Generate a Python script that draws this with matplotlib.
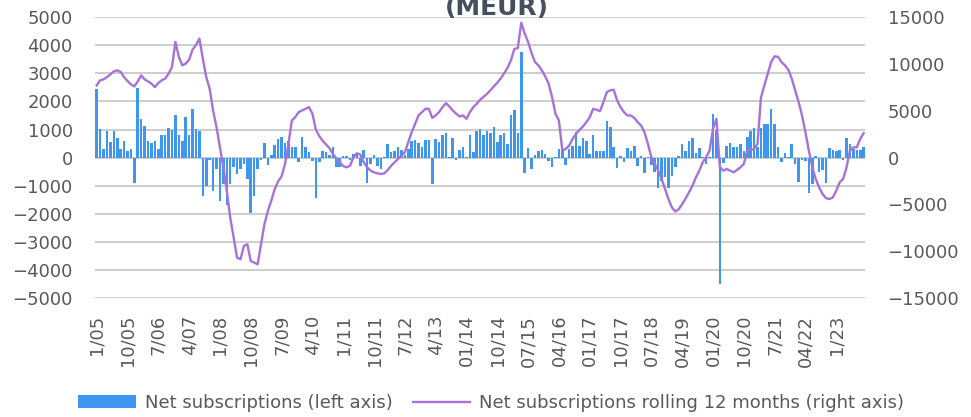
import numpy as np
import matplotlib.pyplot as plt

# x tick labels, one every 9 months starting 1/05
tick_labels = ['1/05', '10/05', '7/06', '4/07', '1/08', '10/08', '7/09', '4/10',
               '1/11', '10/11', '7/12', '4/13', '01/14', '10/14', '07/15', '04/16',
               '01/17', '10/17', '07/18', '04/19', '01/20', '10/20', '7/21', '04/22', '1/23']

# monthly net subscriptions, MEUR (left axis), 1/05 .. 9/23
net_subs = [
    2430, 1020, 310, 940, 570, 930, 690, 310, 580, 250, 310, -900,
    2480, 1360, 1120, 580, 510, 580, 310, 820, 790, 1060, 1000, 1500,
    820, 580, 1460, 790, 1740, 1020, 940,
    -1380, -1000, -100, -1200, -400, -1550, -940, -1700, -940, -350, -580, -400,
    -230, -750, -1980, -1350, -400, -100,
    520, -260, 100, 450, 680, 730, 510, 580, 370, 370, -170, 730, 390, 190,
    -130, -1420, -170, 250, 190, 110, 370, -350, -350, 70, 70,
    -100, 130, 130, -290, 270, -900, -230, 100, -290, -400, 20, 490, 210, 250,
    390, 270, 100, 310, 600, 630, 510, 370, 630, 630, -940,
    670, 550, 790, 870, 30, 690, -80, 270, 390, 20, 820, 190, 950, 1020,
    800, 930, 860, 1100, 550, 790, 870, 490, 1500, 1700, 870, 3760, -560, 340,
    -400, 80, 240, 280, 120, -120, -330, 20, 290, 310, -260, 300, 400, 910,
    410, 690, 580, 140, 790, 250, 250, 250, 1320, 1080, 390, -360, 60, -170, 350,
    250, 430, -290, 60, -560, 20, -250, -520, -1080, -820, -700, -1080, -670,
    -320, 60, 490, 250, 580, 690, 150, 350, 20, -230, 30, 1560, 1000, -4510,
    -200, 430, 520, 390, 370,
    490, 250, 730, 940, 1060, 370, 1060, 1180, 1180, 1740, 1200, 390, -170, 150,
    40, 490, -230, -850, -100, -130, -1270, -940, 50, -520, -440, -890, 350, 270,
    250, 270, -80, 690, 490, 310, 270, 270, 390,
]

# rolling 12-month net subscriptions, MEUR (right axis)
rolling_12m = [
    7710, 8250, 8350, 8600, 8890, 9210, 9320, 9140, 8600, 8180, 7820, 7600,
    8140, 8780, 8350, 8140, 7890, 7530, 7960, 8250, 8430, 8960, 9670, 12350,
    10750, 9850, 10030, 10460, 11530, 12000, 12710, 10570, 8600, 7350, 5030,
    3250, 1100,
    -1040, -3530, -6390, -8530, -10670, -10850, -9420, -9250, -11030, -11210,
    -11390, -9250, -7100, -5680, -4600, -3360,
    -2530, -2000, -700, 1460, 3960, 4320, 4860, 5030, 5210, 5390, 4700, 3000,
    2300, 1800, 1400, 1000, 400, -100, -500, -900, -1040,
    -860, 40, 460, 320, -500, -1040, -1390, -1570, -1680, -1750, -1680, -1320,
    -860, -500, -140, 210, 570, 1640, 2710, 3600, 4500, 4860, 5210, 5210, 4250,
    4500, 4860, 5390, 5820, 5460, 5030, 4680, 4390, 4500, 4140, 4860, 5390,
    5750, 6180,
    6500, 6800, 7200, 7600, 8000, 8450, 9000, 9600, 10400, 11600, 11700, 14400,
    13250, 12350, 11170, 10210, 9850, 9320, 8680, 7890, 6460, 4680, 3960, 750,
    930, 1290, 2000, 2530, 2960, 3320, 3780, 4320, 5210, 5110, 4960, 5930, 7000,
    7180, 7250, 6100, 5390, 4860, 4500, 4500, 4250, 3780, 3430, 2710, 1460, 40,
    -680, -1390, -2280, -3360, -4430, -5320, -5750, -5500, -4960, -4360, -3710,
    -3000, -2110, -1390, -500, 40, 750, 3070, 4140, -1000, -1390, -1210, -1390,
    -1570, -1320,
    -1040, -680, 750, 820, 930, 1460, 6390, 7710, 8960, 10210, 10820, 10750,
    10210, 9850, 9390, 8430, 7180, 5930, 4500, 2710, 750, -1040, -2280, -3180,
    -3890, -4320, -4430, -4250, -3530, -2640, -2280, -1040, 750, 1100, 1100,
    2000, 2610,
]

grey = '#595959'
x = np.arange(len(net_subs))

fig = plt.figure(figsize=(9.71, 4.17), dpi=100)
ax = fig.add_axes([0.0978, 0.285, 0.7934, 0.674])
ax2 = ax.twinx()

bars = ax.bar(x, net_subs, width=0.75, color='#3d96ef', zorder=2,
              label='Net subscriptions (left axis)')
line, = ax2.plot(x, rolling_12m, color='#a672d9', lw=1.7,
                 label='Net subscriptions rolling 12 months (right axis)')

ax.set_xlim(-0.5, len(net_subs) - 0.5)
ax.set_ylim(-5000, 5000)
ax.set_yticks(range(-5000, 5001, 1000))
ax2.set_ylim(-15000, 15000)
ax2.set_yticks(range(-15000, 15001, 5000))
ax.set_xticks(range(0, 9 * len(tick_labels), 9))
ax.set_xticklabels(tick_labels, rotation=90)

ax.grid(axis='y', color='#c0c0c0', lw=1.1, zorder=0)
ax.set_axisbelow(True)
for a in (ax, ax2):
    for s in a.spines.values():
        s.set_visible(False)
ax.tick_params(axis='y', length=0, labelsize=13, colors=grey, pad=16)
ax.tick_params(axis='x', length=0, labelsize=13, colors=grey, pad=12)
ax2.tick_params(axis='y', length=0, labelsize=13, colors=grey, pad=16)

# chart title, its upper part falls outside the image as in the source
fig.text(0.512, 1 - 15 / 417, '(MEUR)', ha='center', va='baseline',
         fontsize=18, fontweight='bold', color='#44505f')

fig.legend([bars, line], [bars.get_label(), line.get_label()],
           loc='center', bbox_to_anchor=(0.506, 1 - 403 / 417), ncol=2,
           frameon=False, fontsize=13, handlelength=3.2, handletextpad=0.5,
           columnspacing=1.1, labelcolor=grey)

fig.savefig('out.png', dpi=100)
